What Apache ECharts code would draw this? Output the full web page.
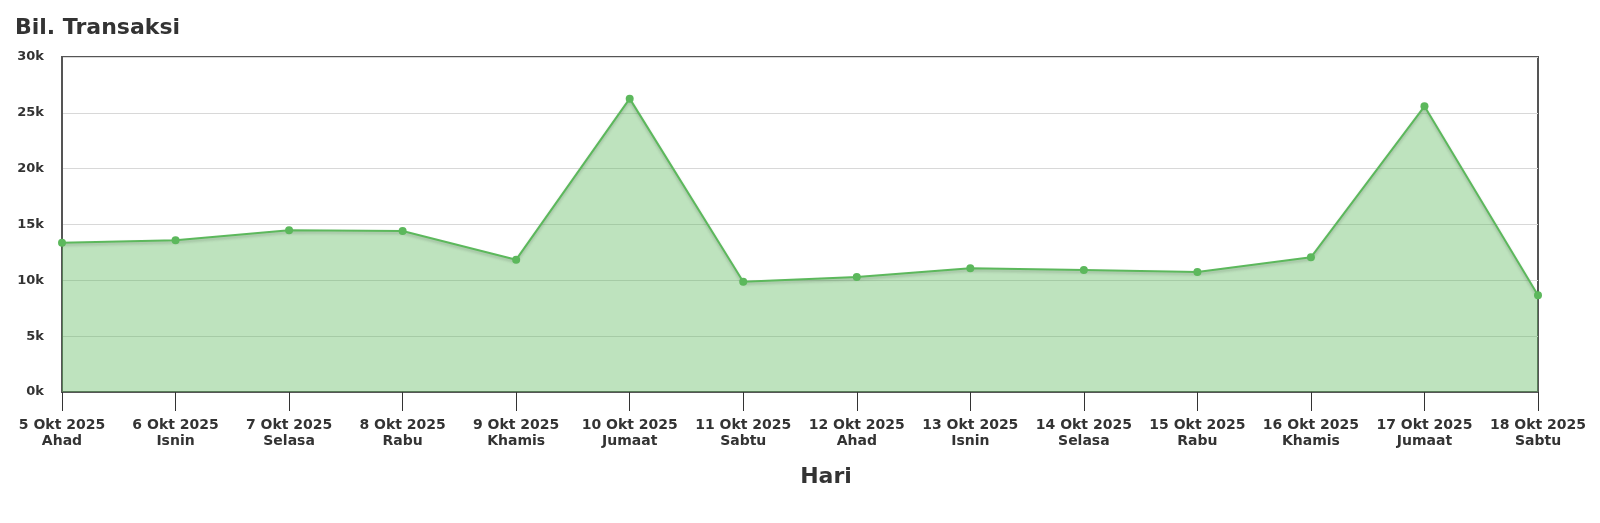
<!DOCTYPE html>
<html>
<head>
<meta charset="utf-8">
<script src="https://cdn.jsdelivr.net/npm/echarts@6/dist/echarts.min.js"></script>
<style>
html,body{margin:0;padding:0;background:#fff;}
#chart{width:1600px;height:523px;}
</style>
</head>
<body>
<div id="chart"></div>
<script>
var dates = ['5 Okt 2025','6 Okt 2025','7 Okt 2025','8 Okt 2025','9 Okt 2025','10 Okt 2025','11 Okt 2025','12 Okt 2025','13 Okt 2025','14 Okt 2025','15 Okt 2025','16 Okt 2025','17 Okt 2025','18 Okt 2025'];
var days = ['Ahad','Isnin','Selasa','Rabu','Khamis','Jumaat','Sabtu','Ahad','Isnin','Selasa','Rabu','Khamis','Jumaat','Sabtu'];
var transactions = [13370, 13580, 14480, 14420, 11850, 26270, 9880, 10300, 11080, 10930, 10750, 12060, 25580, 8660];
var yTicks = [0, 5000, 10000, 15000, 20000, 25000, 30000];

var categories = dates.map(function(d, i){ return d + '\n' + days[i]; });

var chart = echarts.init(document.getElementById('chart'), null, {renderer:'canvas'});
chart.setOption({
  animation: false,
  textStyle: {fontFamily: 'DejaVu Sans'},
  title: {
    text: 'Bil. Transaksi',
    left: 10, top: 12,
    textStyle: {fontSize: 22, fontWeight: 'bold', color: '#333', fontFamily: 'DejaVu Sans'}
  },
  grid: {
    left: 62, right: 62, top: 57, bottom: 131,
    show: true, borderColor: '#555', borderWidth: 2, backgroundColor: 'transparent'
  },
  xAxis: {
    type: 'category',
    data: categories,
    boundaryGap: false,
    name: 'Hari',
    nameLocation: 'middle',
    nameGap: 74,
    nameTextStyle: {fontSize: 22, fontWeight: 'bold', color: '#333', padding: [0, 0, 0, 52]},
    axisLine: {show: true, lineStyle: {color: '#555', width: 2}},
    axisTick: {show: true, length: 19, alignWithLabel: true, lineStyle: {color: '#333', width: 1}},
    axisLabel: {
      interval: 0, margin: 25, fontSize: 14, fontWeight: 'bold', color: '#333', lineHeight: 16
    },
    splitLine: {show: false}
  },
  yAxis: {
    type: 'value',
    min: 0, max: 30000, interval: 5000,
    axisLine: {show: true, lineStyle: {color: '#555', width: 2}},
    axisTick: {show: false},
    axisLabel: {
      margin: 18, fontSize: 13, fontWeight: 'bold', color: '#333', padding: [4, 0, 0, 0],
      formatter: function(v){ return yTicks.indexOf(v) >= 0 ? (v/1000) + 'k' : ''; }
    },
    splitLine: {show: true, lineStyle: {color: '#d8d8d8', width: 1}}
  },
  series: [{
    type: 'line',
    data: transactions,
    symbol: 'circle',
    symbolSize: 8,
    itemStyle: {color: '#5cb85c'},
    lineStyle: {color: '#5cb85c', width: 2, shadowColor: 'rgba(0,0,0,0.2)', shadowBlur: 3, shadowOffsetY: 2},
    areaStyle: {color: '#5cb85c', opacity: 0.4}
  }]
});
</script>
</body>
</html>
